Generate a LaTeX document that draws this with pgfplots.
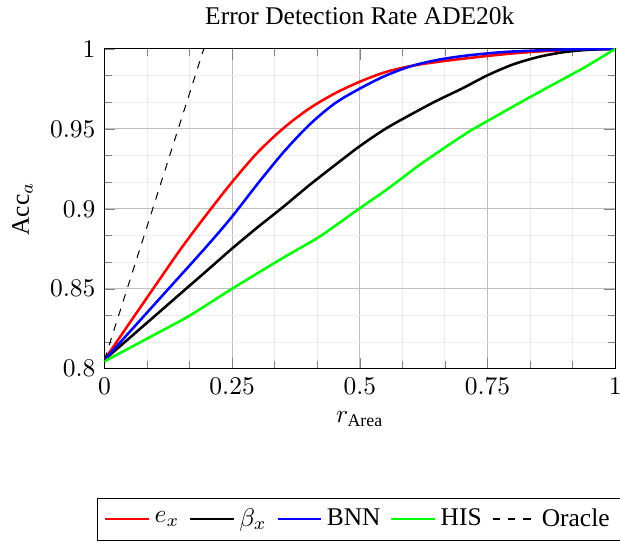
\documentclass[border=0pt]{standalone}
\usepackage{amsmath}
\usepackage{fontspec}
\setmainfont{Liberation Serif}
\usepackage{pgfplots}
\pgfplotsset{compat=1.18}

\begin{document}
\begin{tikzpicture}
\begin{axis}[
  scale only axis,
  width=200.4pt, height=125.5pt,
  title={Error Detection Rate ADE20k},
  xlabel={$r_{\text{Area}}$},
  ylabel={Acc$_a$},
  xmin=0, xmax=1, ymin=0.8, ymax=1,
  xtick={0,0.25,0.5,0.75,1},
  ytick={0.8,0.85,0.9,0.95,1},
  minor tick num=2,
  grid=both,
  major grid style={black!25},
  minor grid style={black!8},
  every axis plot/.append style={line width=1pt},
  legend image post style={line width=0.5pt},
  legend style={at={(0.5,-0.403)}, anchor=north, legend columns=-1, draw=black,
    /tikz/every even column/.append style={column sep=2pt}},
]
% e_x
\addplot[red, smooth, tension=0.5] coordinates {
  (0,0.8056)(0.05,0.8290)(0.1,0.8522)(0.15,0.8752)(0.2,0.8965)
  (0.25,0.9168)(0.3,0.9353)(0.35,0.9503)(0.4,0.9625)(0.45,0.9720)
  (0.5,0.9795)(0.55,0.9855)(0.6,0.9893)(0.65,0.9918)(0.7,0.9938)
  (0.75,0.9956)(0.8,0.9972)(0.85,0.9984)(0.9,0.9992)(0.95,0.9997)(1,1)
};
\addlegendentry{$e_x$}
% beta_x
\addplot[black, smooth, tension=0.5] coordinates {
  (0,0.8056)(0.1,0.8334)(0.2,0.8612)(0.25,0.8752)(0.3,0.8885)
  (0.35,0.9012)(0.4,0.9145)(0.45,0.9270)(0.5,0.9392)(0.55,0.9500)
  (0.6,0.9590)(0.65,0.9675)(0.7,0.9752)(0.75,0.9835)(0.8,0.9903)
  (0.85,0.9950)(0.9,0.9980)(0.95,0.9995)(1,1)
};
\addlegendentry{$\beta_x$}
% BNN
\addplot[blue, smooth, tension=0.5] coordinates {
  (0,0.8056)(0.1,0.8410)(0.2,0.8765)(0.25,0.8952)(0.3,0.9157)
  (0.35,0.9352)(0.4,0.9522)(0.45,0.9657)(0.5,0.9752)(0.55,0.9832)
  (0.6,0.9892)(0.65,0.9930)(0.7,0.9955)(0.75,0.9972)(0.8,0.9984)
  (0.9,0.9996)(1,1)
};
\addlegendentry{BNN}
% HIS
\addplot[green, smooth, tension=0.4] coordinates {
  (0,0.8046)(0.0855,0.8192)(0.164,0.8327)(0.2487,0.8498)
  (0.343,0.8681)(0.4215,0.8827)(0.5,0.9004)(0.552,0.9119)(0.617,0.9275)
  (0.678,0.9408)(0.717,0.9490)
};
\addlegendentry{HIS}
% Oracle
\addplot[black, dashed, line width=0.4pt] coordinates {
  (0,0.8056)(0.1944,1)
};
\addlegendentry{Oracle}
\addplot[green, forget plot] coordinates {
  (0.717,0.9490)(0.809,0.9656)(0.874,0.9770)(0.94,0.9884)(1,1)
};
\end{axis}
\pgfresetboundingbox
\path ([xshift=-41pt,yshift=-68.6pt]current axis.south west)
  rectangle ([xshift=1.9pt,yshift=19.2pt]current axis.north east);
\end{tikzpicture}
\end{document}
